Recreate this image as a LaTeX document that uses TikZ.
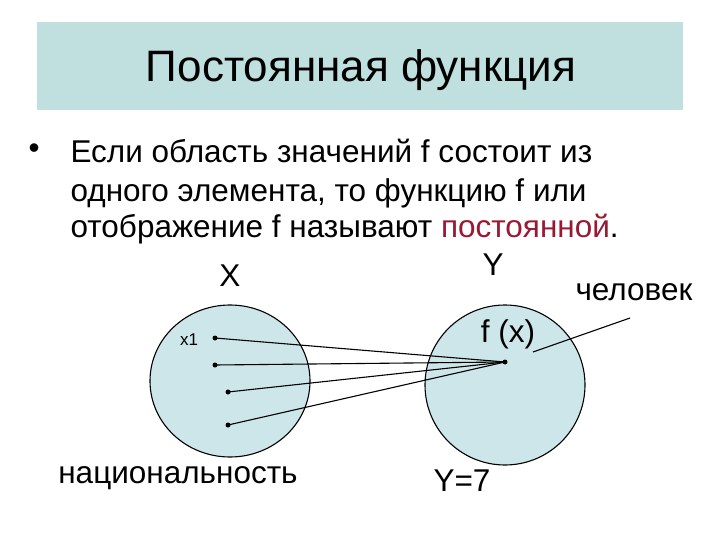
\documentclass[tikz,border=0pt]{standalone}
\usepackage{fontspec}
\setmainfont{Liberation Sans}
\begin{document}
\begin{tikzpicture}[x=1pt,y=-1pt,line width=1.1pt,
  dot/.style={circle,fill=black,inner sep=0pt,minimum size=5pt},
  lbl/.style={inner sep=0pt,font=\fontsize{31.5}{36}\selectfont}]
\useasboundingbox (0,0) rectangle (720,540);
\fill[white] (0,0) rectangle (720,540);
\fill[fill={rgb,255:red,192;green,224;blue,224}] (37,22) rectangle (683,110);
\node[inner sep=0pt,font=\fontsize{44}{48}\selectfont] (title) at (361,70) {Постоянная функция};
\node[lbl,anchor=west] (b) at (28,151) {•};
\node[lbl,anchor=west] (l1) at (70,151) {Если область значений f состоит из};
\node[lbl,anchor=west] (l2) at (70,193) {одного элемента, то функцию f или};
\node[lbl,anchor=west] (l3) at (70,229) {отображение f называют \textcolor[rgb]{0.6,0.1,0.2}{постоянной}.};
\draw[fill={rgb,255:red,204;green,230;blue,234}] (230,381) ellipse (80 and 76);
\draw[fill={rgb,255:red,204;green,230;blue,234}] (505,385) ellipse (80 and 80);
\node[lbl] (X) at (230,276) {X};
\node[lbl] (Y) at (493,265) {Y};
\node[lbl,anchor=west] (ch) at (575,292) {человек};
\node[lbl] (fx) at (508,334) {f (x)};
\node[inner sep=0pt,font=\fontsize{17}{20}\selectfont] (x1) at (189,340) {x1};
\node[lbl] (nat) at (178,478) {национальность};
\node[lbl] (y7) at (462,481) {Y=7};
\node[dot] (p1) at (215,338) {};
\node[dot] (p2) at (215,365) {};
\node[dot] (p3) at (228,392) {};
\node[dot] (p4) at (228,425) {};
\node[dot] (q) at (505,362) {};
\coordinate (ce) at (630,318);
\coordinate (cf) at (533,352);
\foreach \p in {p1,p2,p3,p4} \draw (\p.center) -- (q.center);
\draw (ce) -- (cf);
\end{tikzpicture}
\end{document}
